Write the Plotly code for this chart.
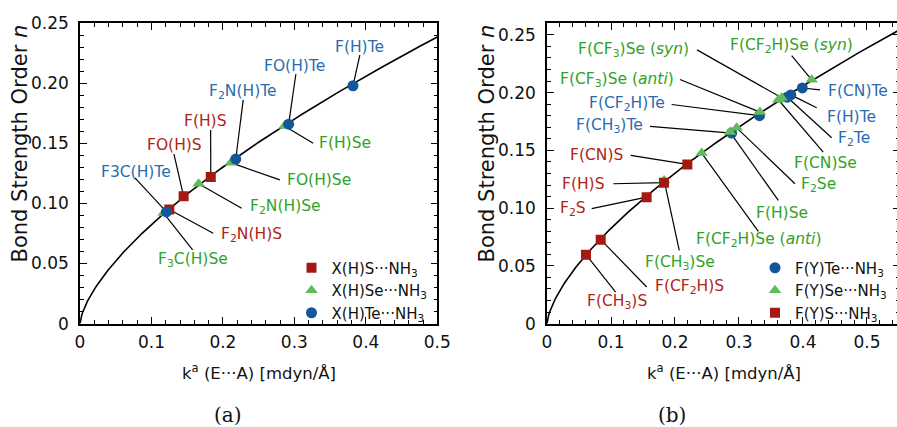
import numpy as np
import plotly.graph_objects as go

W, H = 900, 427

# ---------------- panel (a): X(H)E···NH3 complexes ----------------
a_s_labels = ["F(H)S", "FO(H)S", "F<sub>2</sub>N(H)S"]
a_s_k = [0.183, 0.145, 0.125]
a_s_n = [0.122, 0.106, 0.095]

a_se_labels = ["F(H)Se", "FO(H)Se", "F<sub>2</sub>N(H)Se", "F<sub>3</sub>C(H)Se"]
a_se_k = [0.286, 0.211, 0.166, 0.117]
a_se_n = [0.1645, 0.134, 0.1165, 0.092]

a_te_labels = ["F(H)Te", "FO(H)Te", "F<sub>2</sub>N(H)Te", "F3C(H)Te"]
a_te_k = [0.382, 0.292, 0.218, 0.121]
a_te_n = [0.198, 0.166, 0.137, 0.093]

# ---------------- panel (b): F(Y)E···NH3 complexes ----------------
b_te_labels = ["F(CN)Te", "F(H)Te", "F<sub>2</sub>Te",
               "F(CF<sub>2</sub>H)Te", "F(CH<sub>3</sub>)Te"]
b_te_k = [0.399, 0.381, 0.3755, 0.332, 0.2885]
b_te_n = [0.204, 0.198, 0.196, 0.180, 0.165]

b_se_labels = ["F(CF<sub>2</sub>H)Se (<i>syn</i>)", "F(CF<sub>3</sub>)Se (<i>syn</i>)",
               "F(CN)Se", "F(CF<sub>3</sub>)Se (<i>anti</i>)", "F<sub>2</sub>Se",
               "F(H)Se", "F(CF<sub>2</sub>H)Se (<i>anti</i>)", "F(CH<sub>3</sub>)Se"]
b_se_k = [0.4136, 0.3667, 0.3615, 0.3328, 0.2964, 0.2859, 0.2417, 0.183]
b_se_n = [0.2111, 0.1955, 0.1938, 0.1831, 0.1695, 0.1658, 0.1476, 0.124]

b_s_labels = ["F(CN)S", "F(H)S", "F<sub>2</sub>S", "F(CF<sub>2</sub>H)S", "F(CH<sub>3</sub>)S"]
b_s_k = [0.2193, 0.1828, 0.1557, 0.0839, 0.0609]
b_s_n = [0.1378, 0.1220, 0.1095, 0.0727, 0.0597]

# power-law bond strength order relation n = A * k^B
bso_A = 0.377
bso_B = 0.66

x_ticks = [0, 0.1, 0.2, 0.3, 0.4, 0.5]
x_ticktext = ["0", "0.1", "0.2", "0.3", "0.4", "0.5"]
y_ticks = [0, 0.05, 0.10, 0.15, 0.20, 0.25]
y_ticktext = ["0", "0.05", "0.10", "0.15", "0.20", "0.25"]

# label placement: (text x, text y, leader start x, leader start y) in data units
a_s_place = [(0.1762, 0.1689, 0.1828, 0.1612), (0.1329, 0.1487, 0.1315, 0.1410),
             (0.2401, 0.0738, 0.1864, 0.0752)]
a_se_place = [(0.3706, 0.1506, 0.3263, 0.1501), (0.3347, 0.1196, 0.2797, 0.1196),
              (0.2881, 0.0969, 0.2262, 0.0960), (0.1585, 0.0530, 0.1576, 0.0613)]
a_te_place = [(0.3916, 0.2305, 0.3916, 0.2236), (0.3007, 0.2147, 0.3021, 0.2078),
              (0.2284, 0.1926, 0.2284, 0.1862), (0.0783, 0.1265, 0.0769, 0.1213)]

b_te_place = [(0.4864, 0.2018, 0.4266, 0.2024), (0.4761, 0.1787, 0.4214, 0.1869),
              (0.4800, 0.1600, 0.4448, 0.1609), (0.1245, 0.1897, 0.1948, 0.1897),
              (0.0984, 0.1707, 0.1609, 0.1707)]
b_se_place = [(0.3823, 0.2407, 0.3823, 0.2321), (0.1348, 0.2370, 0.2344, 0.2370),
              (0.4344, 0.1393, 0.4317, 0.1484), (0.1089, 0.2113, 0.2078, 0.2113),
              (0.4239, 0.1196, 0.3875, 0.1211), (0.3667, 0.0960, 0.3614, 0.1067),
              (0.3302, 0.0727, 0.3302, 0.0798), (0.2078, 0.0524, 0.2067, 0.0634)]
b_s_place = [(0.0777, 0.1456, 0.1308, 0.1456), (0.0567, 0.1211, 0.1036, 0.1211),
             (0.0411, 0.0995, 0.0698, 0.0995), (0.2234, 0.0317, 0.1558, 0.0317),
             (0.1089, 0.0187, 0.1073, 0.0273)]

# ---------------- styling ----------------
FONT = "DejaVu Sans, Verdana, sans-serif"
RED, GREEN, BLUE = "#a31a10", "#62bb5b", "#14569a"
RED_T, GREEN_T, BLUE_T = "#b02417", "#2fa328", "#2a6cb0"

a_xmax, b_xmax = 0.5, 0.5516
a_ymax, b_ymax = 0.25, 0.26

# plot-area positions in pixels
a_left, a_right = 80, 437.3
b_left, b_right = 547, 900
p_top, p_bot = 23.3, 323.6

fig = go.Figure()


def add_curve(xax, yax, xmax):
    k = np.linspace(0, xmax, 400)
    fig.add_trace(go.Scatter(x=k, y=bso_A * k ** bso_B, mode="lines",
                             line=dict(color="black", width=1.6),
                             xaxis=xax, yaxis=yax, showlegend=False, hoverinfo="skip"))


def add_leaders(xax, yax, groups):
    xs, ys = [], []
    for ks, ns, place in groups:
        for kk, nn, (tx, ty, lx, ly) in zip(ks, ns, place):
            xs += [lx, kk, None]
            ys += [ly, nn, None]
    fig.add_trace(go.Scatter(x=xs, y=ys, mode="lines", line=dict(color="black", width=1.2),
                             xaxis=xax, yaxis=yax, showlegend=False, hoverinfo="skip"))


def add_points(xax, yax, ks, ns, name, symbol, color, size, legend):
    fig.add_trace(go.Scatter(x=ks, y=ns, mode="markers", name=name,
                             marker=dict(symbol=symbol, color=color, size=size,
                                         line=dict(width=0)),
                             xaxis=xax, yaxis=yax, legend=legend))


def add_labels(xref, yref, labels, place, color):
    for txt, (tx, ty, lx, ly) in zip(labels, place):
        fig.add_annotation(x=tx, y=ty, xref=xref, yref=yref, text=txt, showarrow=False,
                           font=dict(family=FONT, size=15.5, color=color),
                           xanchor="center", yanchor="middle")


# panel (a)
add_curve("x", "y", a_xmax)
add_leaders("x", "y", [(a_s_k, a_s_n, a_s_place), (a_se_k, a_se_n, a_se_place),
                       (a_te_k, a_te_n, a_te_place)])
add_points("x", "y", a_s_k, a_s_n, "X(H)S\u00b7\u00b7\u00b7NH<sub>3</sub>", "square", RED, 10, "legend")
add_points("x", "y", a_se_k, a_se_n, "X(H)Se\u00b7\u00b7\u00b7NH<sub>3</sub>", "triangle-up", GREEN, 11, "legend")
add_points("x", "y", a_te_k, a_te_n, "X(H)Te\u00b7\u00b7\u00b7NH<sub>3</sub>", "circle", BLUE, 11, "legend")
add_labels("x", "y", a_s_labels, a_s_place, RED_T)
add_labels("x", "y", a_se_labels, a_se_place, GREEN_T)
add_labels("x", "y", a_te_labels, a_te_place, BLUE_T)

# panel (b)
add_curve("x2", "y2", b_xmax)
add_leaders("x2", "y2", [(b_te_k, b_te_n, b_te_place), (b_se_k, b_se_n, b_se_place),
                         (b_s_k, b_s_n, b_s_place)])
add_points("x2", "y2", b_te_k, b_te_n, "F(Y)Te\u00b7\u00b7\u00b7NH<sub>3</sub>", "circle", BLUE, 11, "legend2")
add_points("x2", "y2", b_se_k, b_se_n, "F(Y)Se\u00b7\u00b7\u00b7NH<sub>3</sub>", "triangle-up", GREEN, 11, "legend2")
add_points("x2", "y2", b_s_k, b_s_n, "F(Y)S\u00b7\u00b7\u00b7NH<sub>3</sub>", "square", RED, 10, "legend2")
add_labels("x2", "y2", b_te_labels, b_te_place, BLUE_T)
add_labels("x2", "y2", b_se_labels, b_se_place, GREEN_T)
add_labels("x2", "y2", b_s_labels, b_s_place, RED_T)


def ax_common():
    return dict(showline=True, linecolor="black", linewidth=1.6, mirror="ticks",
                ticks="inside", ticklen=7, tickwidth=1.4, tickcolor="black",
                showgrid=False, zeroline=False, fixedrange=True, automargin=False,
                tickfont=dict(family=FONT, size=17, color="#111"))


py = lambda v: 1 - v / H
px = lambda v: v / W

minor_x = dict(dtick=0.02, ticks="inside", ticklen=4, tickwidth=1.2, tickcolor="black")
minor_y = dict(dtick=0.01, ticks="inside", ticklen=4, tickwidth=1.2, tickcolor="black")

xa = ax_common()
xa.update(range=[0, a_xmax], domain=[px(a_left), px(a_right)], tickvals=x_ticks,
          ticktext=x_ticktext, anchor="y", ticklabelstandoff=2, minor=minor_x)
ya = ax_common()
ya.update(range=[0, a_ymax], domain=[py(p_bot), py(p_top)], tickvals=y_ticks,
          ticktext=y_ticktext, anchor="x", ticklabelstandoff=6, minor=minor_y)
xb = ax_common()
xb.update(range=[0, b_xmax], domain=[px(b_left), px(b_right)], tickvals=x_ticks,
          ticktext=x_ticktext, anchor="y2", ticklabelstandoff=2, minor=minor_x)
yb = ax_common()
yb.update(range=[0, b_ymax], domain=[py(p_bot), py(p_top)], tickvals=y_ticks,
          ticktext=y_ticktext, anchor="x2", ticklabelstandoff=6, minor=minor_y)

# axis titles and panel captions
for cx in [(a_left + a_right) / 2, (b_left + b_right) / 2]:
    fig.add_annotation(x=px(cx), y=py(372), xref="paper", yref="paper", showarrow=False,
                       text="k<sup>a</sup> (E\u00b7\u00b7\u00b7A) [mdyn/\u00c5]",
                       font=dict(family=FONT, size=16.5, color="#111"),
                       xanchor="center", yanchor="middle")
for cx in [19.5, 486.5]:
    fig.add_annotation(x=px(cx), y=py(144), xref="paper", yref="paper", showarrow=False,
                       text="Bond Strength Order <i>n</i>", textangle=-90,
                       font=dict(family=FONT, size=21, color="#111"),
                       xanchor="center", yanchor="middle")
for cx, cap in [(228, "(a)"), (672, "(b)")]:
    fig.add_annotation(x=px(cx), y=py(415), xref="paper", yref="paper", showarrow=False,
                       text=cap, font=dict(family="DejaVu Serif, serif", size=20, color="#111"),
                       xanchor="center", yanchor="middle")

legend_style = dict(font=dict(family=FONT, size=15, color="#111"), bgcolor="rgba(0,0,0,0)",
                    borderwidth=0, itemwidth=30, tracegroupgap=0,
                    xanchor="left", yanchor="top", itemclick=False, itemdoubleclick=False)

fig.update_layout(
    width=W, height=H, margin=dict(l=0, r=0, t=0, b=0, autoexpand=False),
    paper_bgcolor="white", plot_bgcolor="white",
    xaxis=xa, yaxis=ya, xaxis2=xb, yaxis2=yb,
    legend=dict(x=px(291.5), y=py(251.5), **legend_style),
    legend2=dict(x=px(755), y=py(251.5), **legend_style),
    showlegend=True,
)

fig.write_html("out.html",
               post_script="document.documentElement.style.overflow='hidden';"
                           "document.body.style.overflow='hidden';")
